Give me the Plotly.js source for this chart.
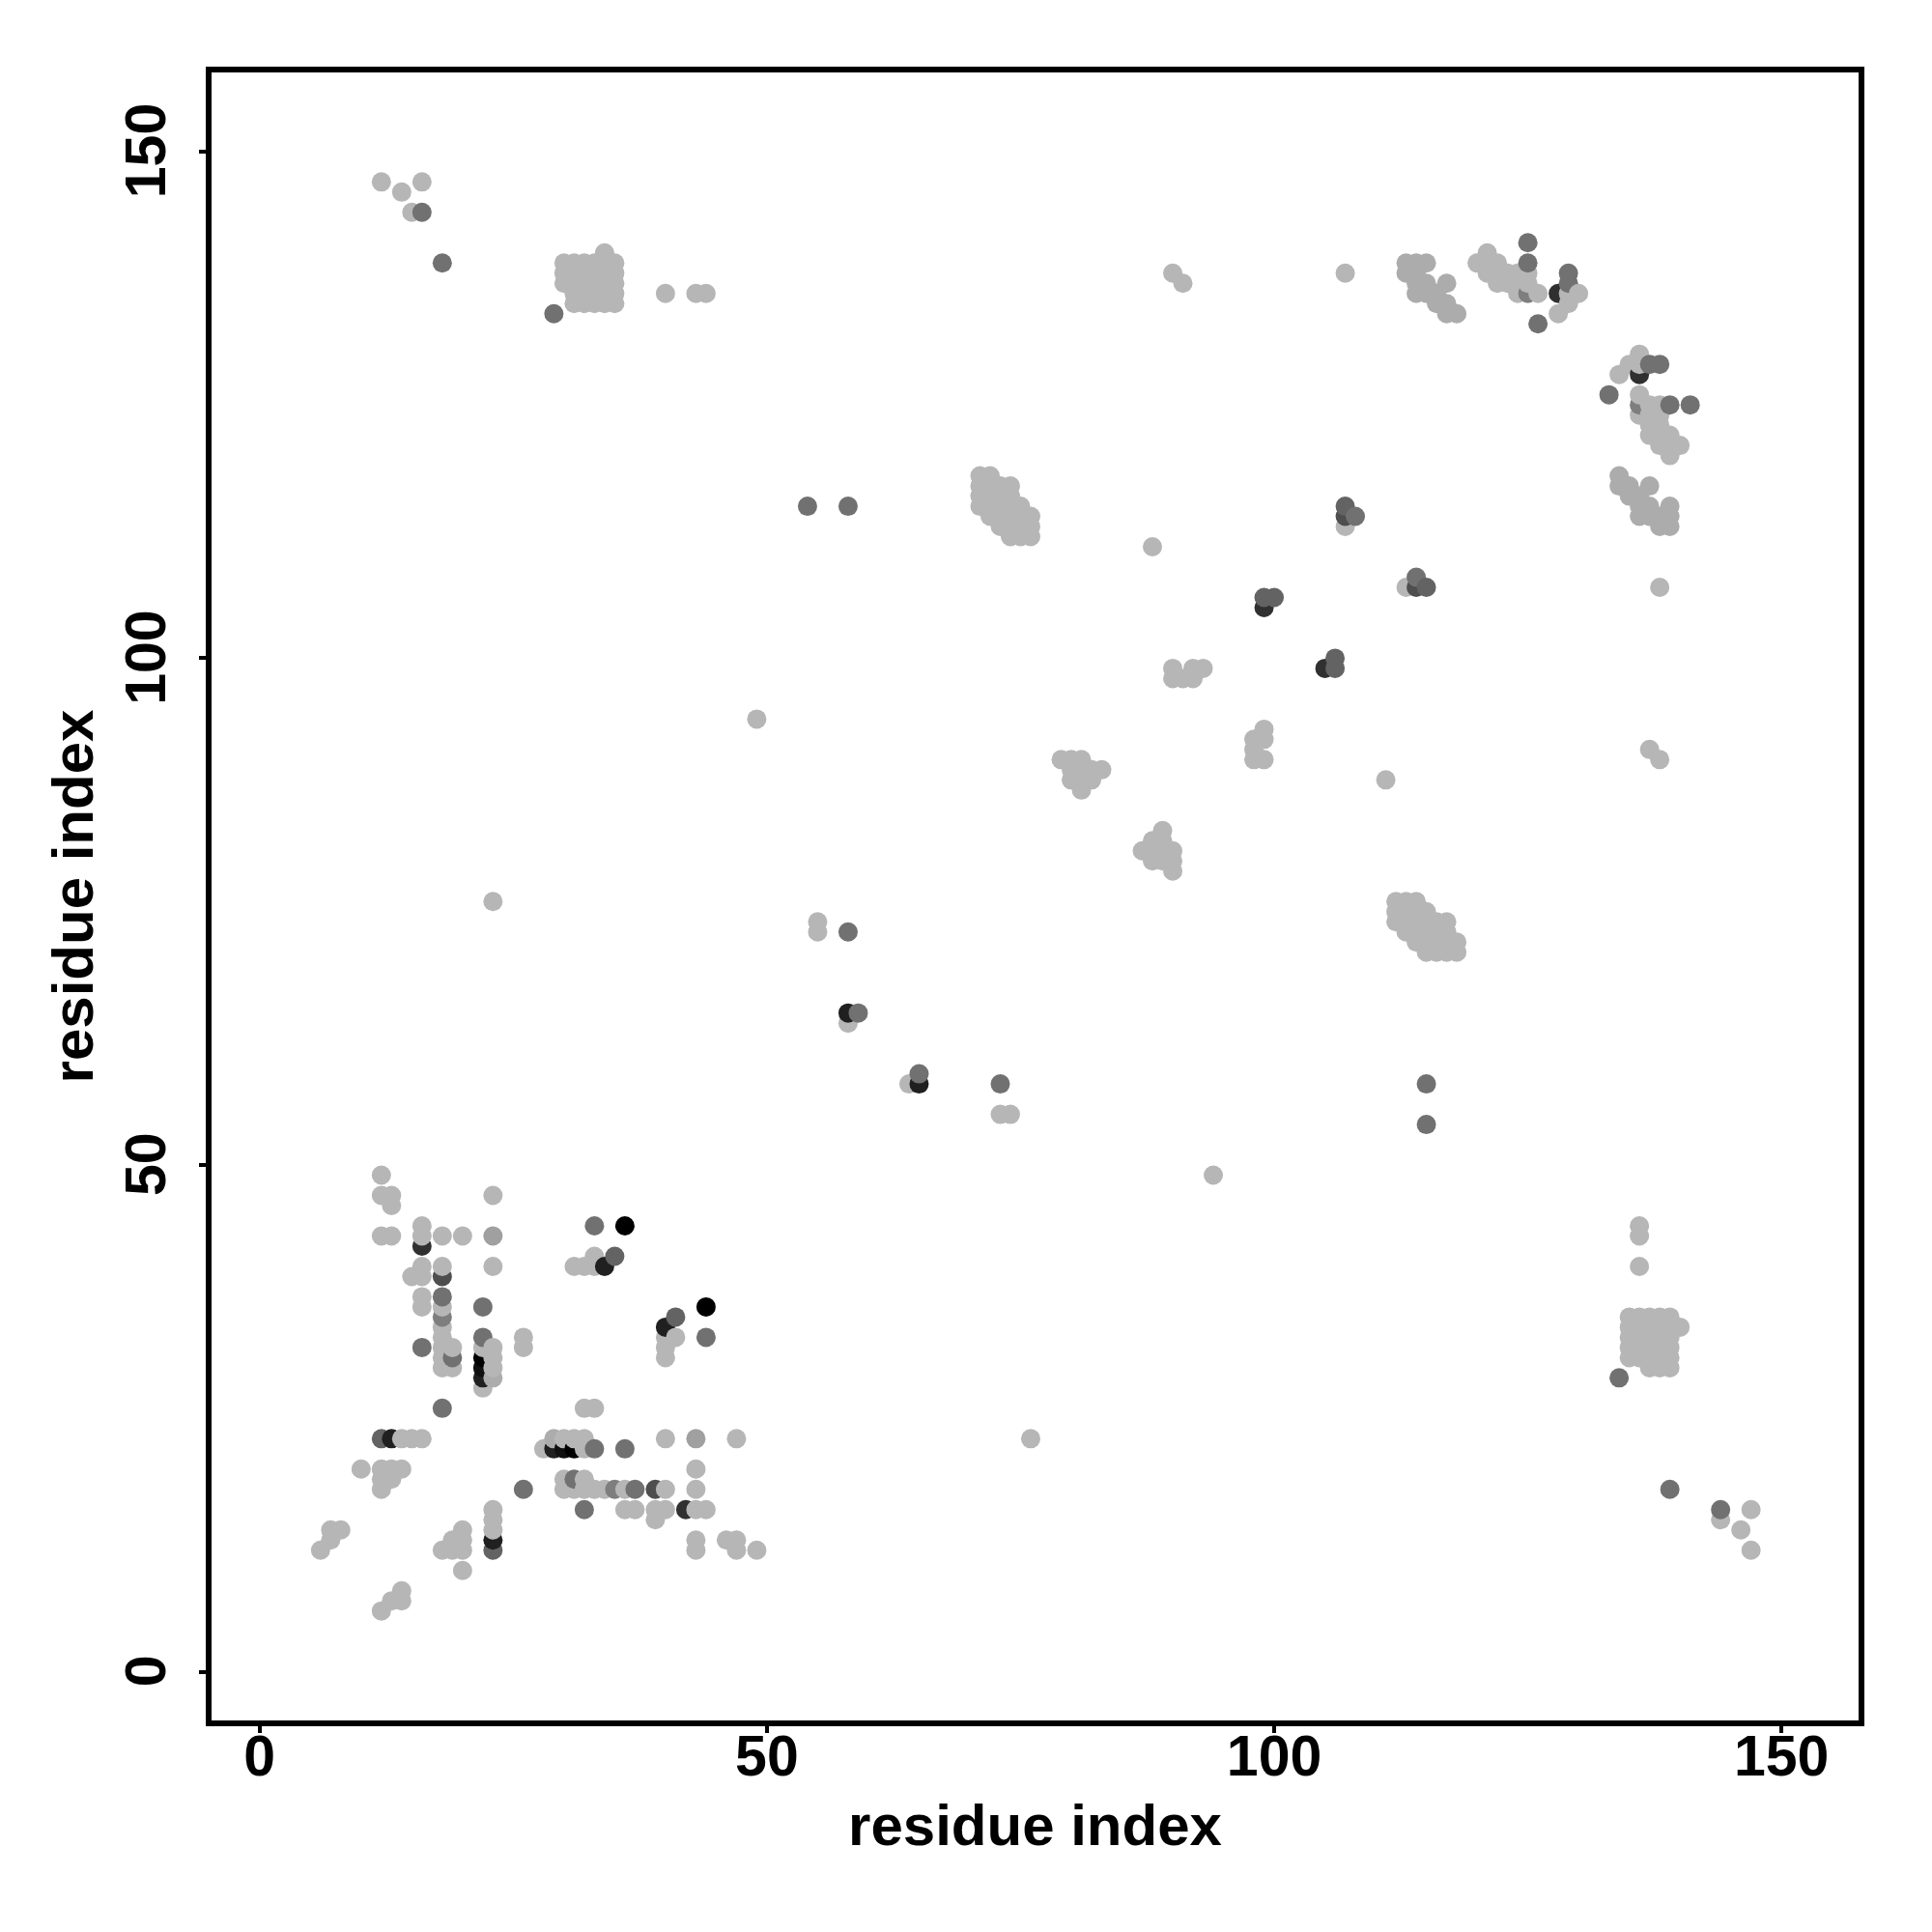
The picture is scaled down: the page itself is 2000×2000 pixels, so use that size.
<!DOCTYPE html>
<html>
<head>
<meta charset="utf-8">
<script src="https://cdn.plot.ly/plotly-3.0.1.min.js"></script>
<style>html,body{margin:0;padding:0;background:#fff}</style>
</head>
<body>
<div id="chart" style="width:2000px;height:2000px"></div>
<script>
// Contact pairs (residue a, residue b), a < b; the map shows each pair at (a,b) and (b,a).
const lightContacts = [
 [12,49],[12,47],[13,47],[13,46],[23,47],[12,43],[13,43],[16,43],[18,43],[20,43],[16,44],[16,40],[15,39],[16,39],[18,40],[23,40],
 [31,40],[32,40],[33,40],[33,41],[16,37],[16,36],[18,36],[18,34],[18,33],[18,32],[18,31],[18,30],[19,32],[19,30],[22,32],[22,28],
 [23,32],[23,31],[23,30],[26,33],[26,32],[14,23],[15,23],[16,23],[10,20],[12,20],[13,20],[14,20],[12,19],[13,19],[12,18],
 [6,12],[7,13],[7,14],[8,14],
 [12,147],[14,146],[15,144],[16,147],
 [31,135],[31,136],[31,137],[31,138],[31,139],[32,135],[32,136],[32,137],[32,138],[32,139],[33,135],[33,136],[33,137],[33,138],[33,139],
 [34,135],[34,136],[34,137],[34,138],[34,139],[34,140],[35,135],[35,136],[35,137],[35,138],[35,139],[30,137],[30,138],[30,139],
 [40,136],[43,136],[44,136],[49,94],[23,76],[55,74],[55,73],[58,64],
 [71,115],[71,116],[71,117],[71,118],[72,114],[72,115],[72,116],[72,117],[72,118],[73,113],[73,114],[73,115],[73,116],[73,117],
 [74,112],[74,113],[74,114],[74,115],[74,116],[74,117],[75,112],[75,113],[75,114],[75,115],[76,112],[76,113],[76,114],
 [79,90],[80,90],[81,90],[80,89],[81,89],[82,89],[83,89],[80,88],[81,88],[82,88],[81,87],
 [88,111],[90,138],[91,137],[107,138],[107,113],[90,99],[90,98],[91,98],[92,99],[92,98],[93,99],
 [120,139],[121,140],[121,139],[122,139],[121,138],[122,138],[123,138],[124,138],[125,138],[122,137],[123,137],[124,137],[125,137],
 [124,136],[126,136],[128,134],[129,135],[129,136],[130,136]
];
const softContacts = [
 [23,29],[113,139],[114,139],[115,139],[113,138],[114,138],[114,137],[115,137],[117,137],[114,136],[115,136],[116,136],[116,135],[117,135],[117,134],[118,134]
];
const paleGreyContacts = [[23,43]];
const greyContacts = [
 [16,144],[18,139],[29,134],[54,115],[58,115],[58,73],[59,65],[108,114],[125,141],[126,133],[129,138],[129,137],
 [33,44],[22,36],[18,37],[16,32],[19,31],[22,33],[18,26],[125,139]
];
const warmGreyContacts = [[18,35],[125,136]];
const slateContacts = [[12,23],[107,115],[99,106],[100,106],[35,41]];
const charcoalContacts = [[18,39],[107,114]];
const darkContacts = [[16,42],[99,105],[128,136]];
const nearBlackContacts = [[34,40],[22,29],[13,23],[58,65]];
const inkContacts = [[22,30]];
const blackContacts = [[36,44],[22,31]];

const shadeGroups = [
 [lightContacts, '#b6b6b6'], [softContacts, '#acacac'], [paleGreyContacts, '#a0a0a0'], [warmGreyContacts, '#7e7e7e'],
 [greyContacts, '#717171'], [slateContacts, '#636363'], [charcoalContacts, '#4e4e4e'], [darkContacts, '#303030'],
 [nearBlackContacts, '#202020'], [inkContacts, '#101010'], [blackContacts, '#000000']
];
const tickValues = [0, 50, 100, 150];
const axisLabel = 'residue index';

const pts = [];
shadeGroups.forEach(([pairs, colour]) => pairs.forEach(([a, b]) => {
  pts.push({x: a, y: b, c: colour});
  pts.push({x: b, y: a, c: colour});
}));
pts.sort((p, q) => p.x - q.x || p.y - q.y);

const font = {family: '"Liberation Sans", Arial, sans-serif', size: 59, color: '#000'};
const baseAxis = {
  showgrid: false, zeroline: false, showline: true, mirror: true, linecolor: '#000', linewidth: 6,
  ticks: 'outside', ticklen: 7, tickwidth: 4, tickcolor: '#000', tickmode: 'array',
  tickvals: tickValues, ticktext: tickValues.map(v => '<b>' + v + '</b>'), tickfont: font, automargin: false
};
Plotly.newPlot('chart', [{
  type: 'scatter', mode: 'markers',
  x: pts.map(p => p.x), y: pts.map(p => p.y),
  marker: {size: 20, color: pts.map(p => p.c), line: {width: 0}},
  hoverinfo: 'skip', showlegend: false
}], {
  width: 2000, height: 2000, paper_bgcolor: '#fff', plot_bgcolor: '#fff', showlegend: false,
  margin: {l: 219, r: 76, t: 75, b: 219, pad: 0},
  xaxis: Object.assign({}, baseAxis, {range: [-4.74, 157.6], ticklabelstandoff: -27,
    title: {text: '<b>' + axisLabel + '</b>', font: Object.assign({}, font, {size: 60}), standoff: 20}}),
  yaxis: Object.assign({}, baseAxis, {range: [-4.8, 157.8], tickangle: -90, ticklabelstandoff: 11, ticklabelshift: 8,
    title: {text: '<b>' + axisLabel + '</b>', font: Object.assign({}, font, {size: 60}), standoff: 4}})
}, {staticPlot: true, displayModeBar: false});
</script>
</body>
</html>
